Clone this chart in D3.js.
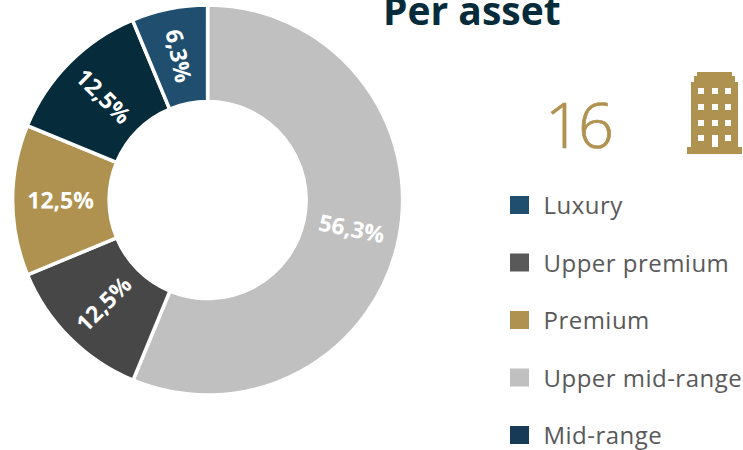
<!DOCTYPE html>
<html>
<head>
<meta charset="utf-8">
<script src="https://cdnjs.cloudflare.com/ajax/libs/d3/7.8.5/d3.min.js"></script>
<style>html,body{margin:0;padding:0;background:#fff;overflow:hidden}svg{display:block}text{font-family:"Open Sans",sans-serif}</style>
</head>
<body>
<svg id="c" width="743" height="450"></svg>
<script>
const sliceNames = ["Upper mid-range","Upper premium","Premium","Mid-range","Luxury"];
const sliceValues = [56.3,12.5,12.5,12.5,6.3];
const sliceLabels = ["56,3%","12,5%","12,5%","12,5%","6,3%"];
const sliceColors = ["#c0c0c0","#474747","#b09250","#062b3a","#1f4e6e"];
const legendNames = ["Luxury","Upper premium","Premium","Upper mid-range","Mid-range"];
const legendColors = ["#1f4e6e","#595959","#b09250","#c0c0c0","#173a56"];
const titleText = "Per asset";
const countText = "16";

const svg = d3.select("#c");
const cx = 207.6, cy = 200, rO = 195, rI = 98.5, rL = 147;
const pie = d3.pie().sort(null).value(d => d);
const arc = d3.arc().innerRadius(rI).outerRadius(rO);
const g = svg.append("g").attr("transform", `translate(${cx},${cy})`);
const arcs = pie(sliceValues);
g.selectAll("path").data(arcs).join("path")
  .attr("d", arc).attr("fill", (d,i) => sliceColors[i])
  .attr("stroke", "#fff").attr("stroke-width", 3.5);
g.selectAll("text").data(arcs).join("text")
  .attr("transform", d => {
    const m = (d.startAngle + d.endAngle) / 2, a = m * 180 / Math.PI;
    const rot = a < 180 ? a - 90 : a - 270;
    return `translate(${rL*Math.sin(m)},${-rL*Math.cos(m)}) rotate(${rot})`;
  })
  .attr("text-anchor", "middle").attr("dy", "0.36em")
  .attr("fill", "#fff").attr("font-size", 23).attr("font-weight", 700)
  .text((d,i) => sliceLabels[i]);

svg.append("text").attr("x", 383).attr("y", 25).attr("font-size", 39)
  .attr("font-weight", 700).attr("fill", "#062b3a").text(titleText);
svg.append("text").attr("x", 545).attr("y", 148).attr("font-size", 63)
  .attr("font-weight", 300).attr("letter-spacing", -3).attr("fill", "#b09250")
  .attr("stroke", "#b09250").attr("stroke-width", 0.7).text(countText);

// building icon
const ic = svg.append("g").attr("fill", "#b09250");
ic.append("path").attr("d", "M687 154V147H691V82H694V76H697V72H732V76H735V82H738V147H742V154Z");
const wx = [698,712,725], wy = [88,104,120,135];
wy.forEach(y => wx.forEach(x => {
  ic.append("rect").attr("x", x).attr("y", y).attr("width", 6).attr("height", (x === 712 && y === 135) ? 12 : 6).attr("fill", "#fff");
}));

const ly = d3.scalePoint().domain(legendNames).range([205, 435]);
const lg = svg.append("g").selectAll("g").data(legendNames).join("g")
  .attr("transform", d => `translate(0,${ly(d)})`);
lg.append("rect").attr("x", 510).attr("y", -9).attr("width", 19).attr("height", 18)
  .attr("fill", (d,i) => legendColors[i]);
lg.append("text").attr("x", 543.5).attr("y", 9).attr("font-size", 24).attr("letter-spacing", 0.48).attr("fill", "#595959").text(d => d);
</script>
</body>
</html>
